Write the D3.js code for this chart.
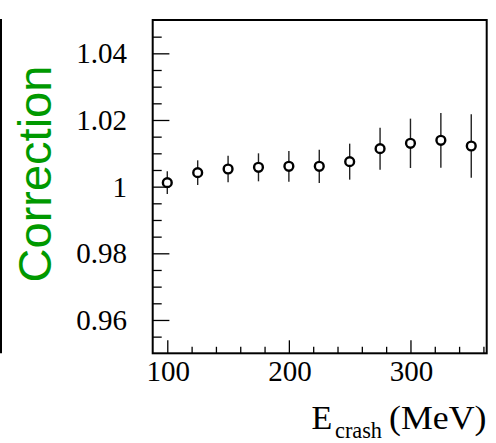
<!DOCTYPE html>
<html>
<head>
<meta charset="utf-8">
<script src="https://cdn.jsdelivr.net/npm/d3@7"></script>
<style>
  html, body { margin: 0; padding: 0; background: #fff; }
  svg { display: block; }
</style>
</head>
<body>
<script>
// Energy points (MeV) and the fitted correction factor with its uncertainty
const energies = [100, 125, 150, 175, 200, 225, 250, 275, 300, 325, 350];
const corrections = [1.0012, 1.0042, 1.0053, 1.0058, 1.0061, 1.0061, 1.0075, 1.0114, 1.0130, 1.0139, 1.0122];
const errors = [0.0034, 0.0037, 0.0040, 0.0042, 0.0046, 0.0050, 0.0054, 0.0063, 0.0074, 0.0082, 0.0095];

const xMajorTicks = [100, 200, 300];
const yMajorTicks = [0.96, 0.98, 1.00, 1.02, 1.04];
const yTickLabels = ["0.96", "0.98", "1", "1.02", "1.04"];

const W = 496, H = 443;
const frame = { left: 152.7, top: 20, right: 486.7, bottom: 353.3 };

const svg = d3.select("body").append("svg")
  .attr("width", W).attr("height", H);

const x = d3.scaleLinear().domain([88, 362.7]).range([frame.left, frame.right]);
const y = d3.scaleLinear().domain([0.95, 1.05]).range([frame.bottom, frame.top]);

// Thin rule at the far left edge
svg.append("line")
  .attr("x1", 1).attr("x2", 1)
  .attr("y1", frame.top - 1).attr("y2", frame.bottom)
  .attr("stroke", "#000").attr("stroke-width", 2);

// Ticks drawn inward from the bottom and left edges
const xMinor = d3.range(100, 361, 20).filter(v => !xMajorTicks.includes(v));
const yMinor = d3.range(0, 21).map(i => +(0.95 + i * 0.005).toFixed(3))
  .filter(v => v > 0.95 && v < 1.05 && !yMajorTicks.some(t => Math.abs(t - v) < 1e-9));

const xAxis = d3.axisBottom(x).tickValues(xMajorTicks).tickSize(-13).tickFormat("");
const xAxisMinor = d3.axisBottom(x).tickValues(xMinor).tickSize(-6.5).tickFormat("");
const yAxis = d3.axisLeft(y).tickValues(yMajorTicks).tickSize(-16.7).tickFormat("");
const yAxisMinor = d3.axisLeft(y).tickValues(yMinor).tickSize(-9).tickFormat("");

function styleAxis(g) {
  g.select(".domain").remove();
  g.selectAll(".tick line").attr("stroke", "#000").attr("stroke-width", 1.3);
}
svg.append("g").attr("transform", `translate(0,${frame.bottom})`).call(xAxis).call(styleAxis);
svg.append("g").attr("transform", `translate(0,${frame.bottom})`).call(xAxisMinor).call(styleAxis);
svg.append("g").attr("transform", `translate(${frame.left},0)`).call(yAxis).call(styleAxis);
svg.append("g").attr("transform", `translate(${frame.left},0)`).call(yAxisMinor).call(styleAxis);

// Plot frame
svg.append("rect")
  .attr("x", frame.left).attr("y", frame.top)
  .attr("width", frame.right - frame.left).attr("height", frame.bottom - frame.top)
  .attr("fill", "none").attr("stroke", "#000").attr("stroke-width", 2);

const serif = "'Liberation Serif', 'Times New Roman', serif";

// Tick labels
svg.append("g").selectAll("text").data(xMajorTicks).join("text")
  .attr("x", d => x(d) + 1).attr("y", 381)
  .attr("text-anchor", "middle")
  .attr("font-family", serif)
  .attr("font-size", 29)
  .text(d => d);

svg.append("g").selectAll("text").data(yMajorTicks).join("text")
  .attr("x", 127).attr("y", d => y(d)).attr("dy", "0.35em")
  .attr("text-anchor", "end")
  .attr("font-family", serif)
  .attr("font-size", 29)
  .text((d, i) => yTickLabels[i]);

// Axis titles
svg.append("text")
  .attr("transform", "translate(51,174) rotate(-90)")
  .attr("text-anchor", "middle")
  .attr("font-family", "'Liberation Sans', Arial, sans-serif")
  .attr("font-size", 47)
  .attr("fill", "#009900")
  .text("Correction");

svg.append("text").attr("x", 311.5).attr("y", 429)
  .attr("font-family", serif).attr("font-size", 34).text("E");
svg.append("text").attr("x", 335).attr("y", 438)
  .attr("font-family", serif).attr("font-size", 23)
  .attr("textLength", 47).attr("lengthAdjust", "spacingAndGlyphs")
  .text("crash");
svg.append("text").attr("x", 389).attr("y", 429)
  .attr("font-family", serif).attr("font-size", 34)
  .attr("textLength", 97.5).attr("lengthAdjust", "spacingAndGlyphs")
  .text("(MeV)");

// Error bars and markers
const pts = energies.map((e, i) => ({ e, c: corrections[i], err: errors[i] }));

svg.append("g").selectAll("line").data(pts).join("line")
  .attr("x1", d => x(d.e)).attr("x2", d => x(d.e))
  .attr("y1", d => y(d.c + d.err)).attr("y2", d => y(d.c - d.err))
  .attr("stroke", "#222").attr("stroke-width", 1.4);

svg.append("g").selectAll("circle").data(pts).join("circle")
  .attr("cx", d => x(d.e)).attr("cy", d => y(d.c))
  .attr("r", 4.4)
  .attr("fill", "#fff").attr("stroke", "#000").attr("stroke-width", 2.4);
</script>
</body>
</html>
